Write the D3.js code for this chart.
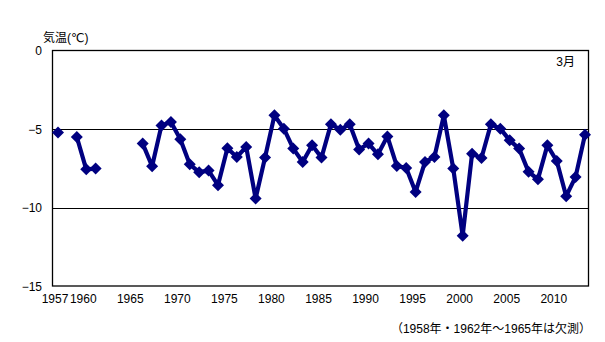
<!DOCTYPE html>
<html><head><meta charset="utf-8">
<script src="https://cdn.jsdelivr.net/npm/d3@7"></script>
<style>body{margin:0;background:#fff}svg{display:block}text{font-family:"Liberation Sans","DejaVu Sans","Noto Sans CJK JP",sans-serif;font-size:12px;fill:#000}</style>
</head><body><svg id="c" width="605" height="342"></svg>
<script>
const years = d3.range(1957, 2014);
const values = [-5.23, null, -5.51, -7.57, -7.52, null, null, null, null,
  -5.93, -7.37, -4.77, -4.56, -5.66, -7.25, -7.75, -7.65, -8.58, -6.23,
  -6.78, -6.14, -9.43, -6.82, -4.13, -4.98, -6.25, -7.10, -6.04, -6.82,
  -4.70, -5.04, -4.70, -6.31, -5.93, -6.61, -5.47, -7.35, -7.48, -9.01,
  -7.10, -6.78, -4.13, -7.52, -11.8, -6.57, -6.85, -4.70, -4.98, -5.72,
  -6.25, -7.73, -8.20, -6.04, -7.04, -9.28, -8.05, -5.36];
const yTicks = [0, -5, -10, -15];
const xTickYears = [1957, 1960, 1965, 1970, 1975, 1980, 1985, 1990, 1995, 2000, 2005, 2010];
const data = years.map((y, i) => ({year: y, value: values[i]}));

const svg = d3.select("#c");
const L = 52, R = 588.5, T = 50.5, B = 286;
const x = d3.scaleLinear().domain([1957, 2013]).range([58, 585]);
const y = d3.scaleLinear().domain([-15, 0]).range([B, T]);

// gridlines
svg.append("g").selectAll("line").data([-5, -10]).join("line")
  .attr("x1", L).attr("x2", R).attr("y1", d => Math.round(y(d)) + 0.5).attr("y2", d => Math.round(y(d)) + 0.5)
  .attr("stroke", "#000").attr("stroke-width", 1);
// frame
svg.append("rect").attr("x", L + 0.5).attr("y", T).attr("width", R - L - 0.5).attr("height", B - T)
  .attr("fill", "none").attr("stroke", "#000").attr("stroke-width", 1.3);

// y labels
svg.append("g").selectAll("text").data(yTicks).join("text")
  .attr("x", 42).attr("y", d => y(d) + 4.5).attr("text-anchor", "end")
  .attr("font-size", 12.5).text(d => d === 0 ? "0" : "\u2212" + Math.abs(d));
// x labels
svg.append("g").selectAll("text").data(xTickYears).join("text")
  .attr("x", d => x(d) - 3).attr("y", 303).attr("text-anchor", "middle").attr("font-size", 11.5)
  .text(d => d);

// line
const line = d3.line().defined(d => d.value !== null).x(d => x(d.year)).y(d => y(d.value));
svg.append("path").datum(data).attr("d", line).attr("fill", "none")
  .attr("stroke", "#000080").attr("stroke-width", 4.2).attr("stroke-linejoin", "round");
// markers
svg.append("g").selectAll("path").data(data.filter(d => d.value !== null)).join("path")
  .attr("transform", d => `translate(${x(d.year)},${y(d.value)}) rotate(45)`)
  .attr("d", d3.symbol().type(d3.symbolSquare).size(72)).attr("fill", "#000080");

svg.append("text").attr("x", 43).attr("y", 42).attr("font-size", 12.5).text("気温(℃)");
svg.append("text").attr("x", 575).attr("y", 66).attr("text-anchor", "end").attr("font-size", 12).text("3月");
svg.append("text").attr("x", 591).attr("y", 332.5).attr("text-anchor", "end").attr("font-size", 12.5)
  .text("（1958年・1962年～1965年は欠測）");
</script></body></html>
